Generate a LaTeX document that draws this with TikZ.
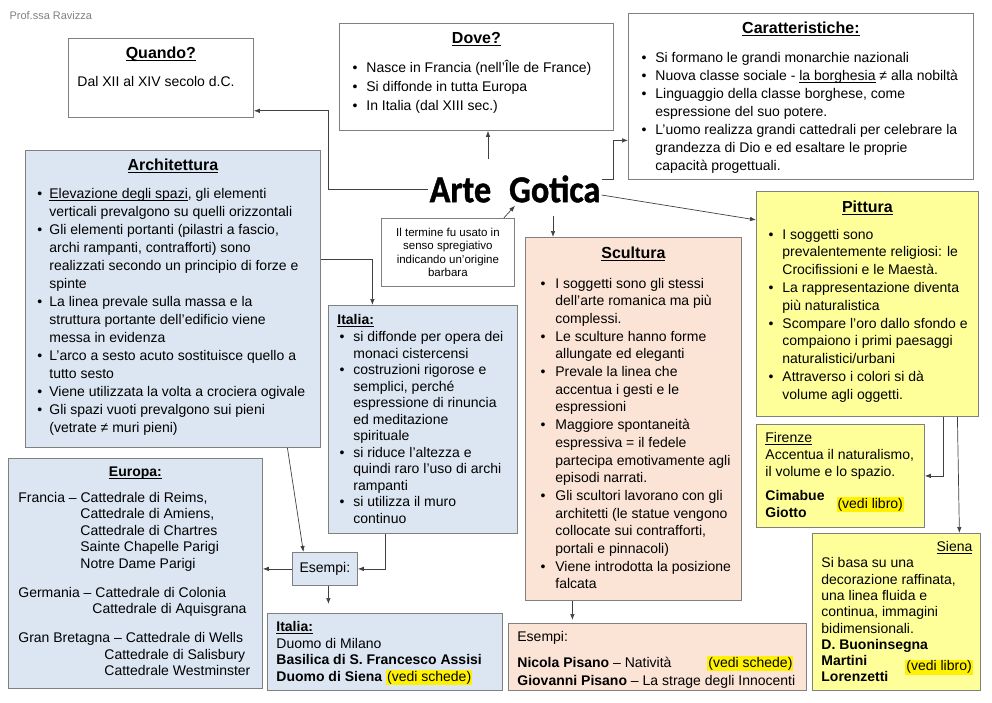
\documentclass[tikz,border=0pt]{standalone}
\usepackage{fontspec}
\setmainfont{Liberation Sans}
\newfontfamily\gotfont[BoldFeatures={FakeBold=1.2}]{Carlito}
\usetikzlibrary{arrows.meta,positioning,calc}

\definecolor{archblue}{HTML}{DCE6F2}
\definecolor{sculrose}{HTML}{FBE4D5}
\definecolor{pittgiallo}{HTML}{FFFF99}
\definecolor{bordo}{HTML}{808080}
\definecolor{filo}{HTML}{404040}

% box body: width, height, top gap, left pad, text
\newcommand{\pane}[5]{\parbox[t][#2pt][t]{#1pt}{\fontsize{14}{18}\selectfont
  \leftskip=#4pt\relax\rightskip=-20pt plus 1fil\relax\vspace*{#3pt}#5}}
\newcommand{\sott}[1]{\leavevmode\setbox0=\hbox{#1}\rlap{\rule[-2.4pt]{\wd0}{0.9pt}}\box0\relax}
\newcommand{\titolo}[3][16]{{\centering\fontsize{#1}{#1}\selectfont\bfseries\sott{#2}\par}\vspace{#3pt}}
\newcommand{\evid}[1]{{\fboxsep=1pt\colorbox{yellow}{#1}}}
% bullet list: left pad, indent of the text after the bullet
\newenvironment{punti}[2]{\begin{list}{\textbullet}{\setlength{\leftmargin}{\dimexpr#1pt+#2pt\relax}%
  \setlength{\labelwidth}{5pt}\setlength{\labelsep}{\dimexpr#2pt-5pt\relax}%
  \setlength{\itemsep}{0pt}\setlength{\parsep}{0pt}\setlength{\topsep}{0pt}%
  \setlength{\partopsep}{0pt}}}{\end{list}}

\begin{document}
\begin{tikzpicture}[x=1pt,y=-1pt,
    pane/.style={draw=bordo, line width=0.8pt, inner sep=0pt, anchor=north west},
    arr/.style={-{Latex[length=6pt,width=4.5pt]}, draw=filo, line width=0.7pt},
  ]
  \useasboundingbox (0,0) rectangle (992,702);

  \node[anchor=west, text=gray, font=\fontsize{11}{13}\selectfont] (firma) at (6,16) {Prof.ssa Ravizza};

  % centre
  \node[font=\gotfont\bfseries\fontsize{38}{38}\selectfont, inner sep=1pt] (arte) at (515,189)
    {\scalebox{0.9}[1]{Arte\hspace{20pt}Gotica}};

  % top row
  \node[pane] (quando) at (68,38) {\pane{185}{79}{8.3}{9}{\titolo{Quando?}{10}Dal XII al XIV secolo d.C.}};

  \node[pane] (dove) at (339,23) {\pane{274}{107}{9.3}{13}{\baselineskip=19pt\titolo{Dove?}{10}
    \begin{punti}{13}{14}
    \item Nasce in Francia (nell’Île de France)
    \item Si diffonde in tutta Europa
    \item In Italia (dal XIII sec.)
    \end{punti}}};

  \node[pane] (car) at (628,13) {\pane{345}{166}{8.3}{13}{\titolo{Caratteristiche:}{11}
    \begin{punti}{13}{14}
    \item Si formano le grandi monarchie nazionali
    \item Nuova classe sociale - \sott{la borghesia} ≠ alla nobiltà
    \item Linguaggio della classe borghese, come\\ espressione del suo potere.
    \item L’uomo realizza grandi cattedrali per celebrare la\\ grandezza di Dio e ed esaltare le proprie\\ capacità progettuali.
    \end{punti}}};

  % architecture
  \node[pane, fill=archblue] (arch) at (25,150) {\pane{295}{297}{8.3}{12}{\titolo{Architettura}{10}
    \begin{punti}{12}{12}
    \item \sott{Elevazione degli spazi}, gli elementi\\ verticali prevalgono su quelli orizzontali
    \item Gli elementi portanti (pilastri a fascio,\\ archi rampanti, contrafforti) sono\\ realizzati secondo un principio di forze e\\ spinte
    \item La linea prevale sulla massa e la\\ struttura portante dell’edificio viene\\ messa in evidenza
    \item L’arco a sesto acuto sostituisce quello a\\ tutto sesto
    \item Viene utilizzata la volta a crociera ogivale
    \item Gli spazi vuoti prevalgono sui pieni\\ (vetrate ≠ muri pieni)
    \end{punti}}};

  \node[pane, fill=white] (term) at (381,218) {\pane{133}{68}{9.6}{0}{\centering\fontsize{11.5}{13.5}\selectfont
    Il termine fu usato in\\ senso spregiativo\\ indicando un’origine\\ barbara}};

  \node[pane, fill=archblue] (ital) at (328,305) {\pane{189}{228}{9}{9}{\baselineskip=16.5pt\textbf{\sott{Italia:}}\par\vspace{0.5pt}
    \begin{punti}{11}{14}
    \item si diffonde per opera dei\\ monaci cistercensi
    \item costruzioni rigorose e\\ semplici, perché\\ espressione di rinuncia\\ ed meditazione\\ spirituale
    \item si riduce l’altezza e\\ quindi raro l’uso di archi\\ rampanti
    \item si utilizza il muro\\ continuo
    \end{punti}}};

  \node[pane, fill=archblue] (eur) at (8,458) {\pane{254}{230}{8}{10}{\baselineskip=16.5pt\titolo[14]{Europa:}{9.5}
    Francia – Cattedrale di Reims,\\ \hspace*{62pt}Cattedrale di Amiens,\\ \hspace*{62pt}Cattedrale di Chartres\\
    \hspace*{62pt}Sainte Chapelle Parigi\\ \hspace*{62pt}Notre Dame Parigi\par\vspace{12.5pt}
    Germania – Cattedrale di Colonia\\ \hspace*{74pt}Cattedrale di Aquisgrana\par\vspace{12.5pt}
    Gran Bretagna – Cattedrale di Wells\\ \hspace*{86pt}Cattedrale di Salisbury\\ \hspace*{86pt}Cattedrale Westminster}};

  \node[pane, fill=archblue, minimum width=65pt, minimum height=33pt, font=\fontsize{14}{16}\selectfont] (esA) at (292,552) {Esempi:};

  \node[pane, fill=archblue] (italB) at (267,613) {\pane{235}{77}{8}{9}{\baselineskip=16.5pt\textbf{\sott{Italia:}}\\ Duomo di Milano\\
    \textbf{Basilica di S. Francesco Assisi}\\ \textbf{Duomo di Siena} \evid{(vedi schede)}}};

  % sculpture
  \node[pane, fill=sculrose] (scul) at (525,237) {\pane{216}{363}{9.3}{15}{\baselineskip=17.7pt\titolo{Scultura}{12}
    \begin{punti}{15}{15}
    \item I soggetti sono gli stessi\\ dell’arte romanica ma più\\ complessi.
    \item Le sculture hanno forme\\ allungate ed eleganti
    \item Prevale la linea che\\ accentua i gesti e le\\ espressioni
    \item Maggiore spontaneità\\ espressiva = il fedele\\ partecipa emotivamente agli\\ episodi narrati.
    \item Gli scultori lavorano con gli\\ architetti (le statue vengono\\ collocate sui contrafforti,\\ portali e pinnacoli)
    \item Viene introdotta la posizione\\ falcata
    \end{punti}}};

  \node[pane, fill=sculrose] (esS) at (508,623) {\pane{298}{67}{8}{9}{Esempi:\par\vspace{8pt}
    \makebox[190pt][l]{\textbf{Nicola Pisano} – Natività}\evid{(vedi schede)}\\
    \textbf{Giovanni Pisano} – La strage degli Innocenti}};

  % painting
  \node[pane, fill=pittgiallo] (pitt) at (756,191) {\pane{222}{225}{9.3}{12}{\baselineskip=17.8pt\titolo{Pittura}{9}
    \begin{punti}{12}{14}
    \item I soggetti sono\\ prevalentemente religiosi: le\\ Crocifissioni e le Maestà.
    \item La rappresentazione diventa\\ più naturalistica
    \item Scompare l’oro dallo sfondo e\\ compaiono i primi paesaggi\\ naturalistici/urbani
    \item Attraverso i colori si dà\\ volume agli oggetti.
    \end{punti}}};

  \node[pane, fill=pittgiallo] (fir) at (756,424) {\pane{168}{103}{8}{9}{\baselineskip=17pt\sott{Firenze}\\
    Accentua il naturalismo,\\ il volume e lo spazio.\par\vspace{7pt}
    \textbf{Cimabue}\hspace{12pt}\smash{\raisebox{-8pt}{\evid{(vedi libro)}}}\\ \textbf{Giotto}}};

  \node[pane, fill=pittgiallo] (siena) at (812,533) {\pane{168}{157}{8}{9}{\baselineskip=16.3pt
    {\leftskip=0pt plus 1fil\rightskip=8pt\parfillskip=0pt\sott{Siena}\par}
    Si basa su una\\ decorazione raffinata,\\ una linea fluida e\\ continua, immagini\\ bidimensionali.\\
    \textbf{D. Buoninsegna}\\ \makebox[84pt][l]{\textbf{Martini}}\smash{\raisebox{-5pt}{\evid{(vedi libro)}}}\\ \textbf{Lorenzetti}}};

  % connectors
  \draw[arr] (arte.west) -| ([xshift=75pt,yshift=7pt]quando.south east) -- ([yshift=7pt]quando.south east);
  \draw[arr] ([xshift=-27pt,yshift=15pt]arte.north) -- ([xshift=-27pt]arte.north |- dove.south);
  \draw[arr] ([yshift=10pt]arte.east) -- ++(12,0) |- ([yshift=-44pt]car.west);
  \draw[arr] ([yshift=-6pt]arte.east) -- ([yshift=84pt]pitt.west);
  \draw[arr] ([xshift=38pt,yshift=-12pt]arte.south) -- ([xshift=38pt]arte.south |- scul.north);
  \draw[arr] ([xshift=-11pt]term.north east) -- ([yshift=-2pt]arte.south);
  \draw[arr] ([yshift=39.5pt]arch.east) -| ([xshift=-50.5pt]ital.north);
  \draw[arr] ([xshift=114.5pt]arch.south) -- ([xshift=-21.5pt]esA.north);
  \draw[arr] ([xshift=-37.5pt]ital.south) |- (esA.east);
  \draw[arr] (esA.west) -- (esA.west -| eur.east);
  \draw[arr, shorten >=9pt] ([xshift=3.5pt]esA.south) -- ([xshift=3.5pt]esA.south |- italB.north);
  \draw[arr, shorten >=3pt] ([xshift=-61pt]scul.south) -- ([xshift=-61pt]scul.south |- esS.north);
  \draw[arr] ([xshift=76pt]pitt.south) |- (fir.east);
  \draw[arr] ([xshift=90pt]pitt.south) -- ([xshift=63pt]siena.north);
\end{tikzpicture}
\end{document}
